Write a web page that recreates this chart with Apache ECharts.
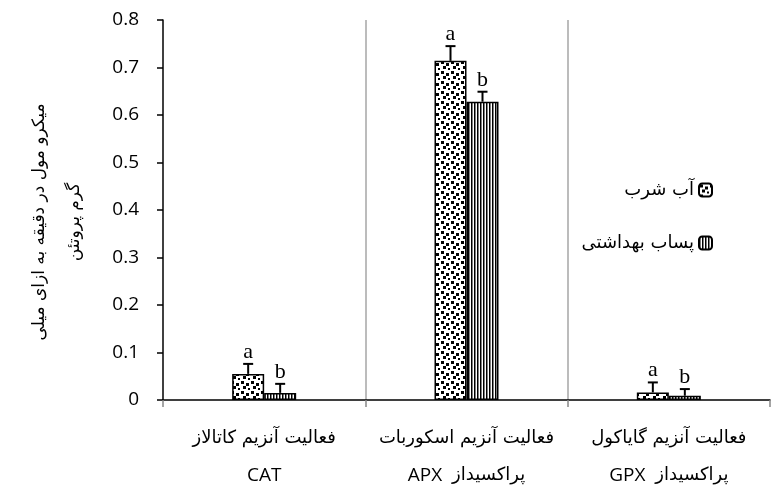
<!DOCTYPE html>
<html>
<head>
<meta charset="utf-8">
<script src="https://cdn.jsdelivr.net/npm/echarts@6/dist/echarts.min.js"></script>
<style>html,body{margin:0;padding:0;background:#fff;}#c{width:777px;height:495px;}</style>
</head>
<body>
<div id="c"></div>
<script>
var categoryNames = ['فعالیت آنزیم کاتالاز', 'فعالیت آنزیم اسکوربات', 'فعالیت آنزیم گایاکول'];
var categoryCodes = ['CAT', 'APX', 'GPX'];
var categorySuffix = ['', 'پراکسیداز', 'پراکسیداز'];
var seriesNames = ['آب شرب', 'پساب بهداشتی'];
var drinkingWater = [0.055, 0.714, 0.016];
var drinkingErr = [0.021, 0.031, 0.021];
var wastewater = [0.015, 0.628, 0.009];
var wastewaterErr = [0.019, 0.021, 0.014];
var drinkingLetters = ['a', 'a', 'a'];
var wastewaterLetters = ['b', 'b', 'b'];
var yTicks = [0, 0.1, 0.2, 0.3, 0.4, 0.5, 0.6, 0.7, 0.8];
var yTitle = 'میکرو مول در دقیقه به ازای میلی\nگرم پروتئن';

function dotPattern() {
  var c = document.createElement('canvas');
  c.width = 10; c.height = 10;
  var g = c.getContext('2d');
  g.fillStyle = '#fff'; g.fillRect(0, 0, 10, 10);
  g.fillStyle = '#000';
  g.fillRect(1, 1, 3, 3);
  g.fillRect(6, 3, 3, 3);
  g.fillRect(3, 6, 3, 3);
  g.fillRect(8, 8, 2, 2);
  return c;
}
function stripePattern() {
  var c = document.createElement('canvas');
  c.width = 3; c.height = 3;
  var g = c.getContext('2d');
  g.fillStyle = '#fff'; g.fillRect(0, 0, 3, 3);
  g.fillStyle = '#000'; g.fillRect(0, 0, 1.5, 3);
  return c;
}
var pat1 = {image: dotPattern(), repeat: 'repeat'};
var pat2 = {image: stripePattern(), repeat: 'repeat'};

function errData(vals, errs, letters) {
  return vals.map(function (v, i) { return [i, v, v + errs[i], letters[i]]; });
}
function errRender(offset) {
  return function (params, api) {
    var i = api.value(0);
    var p0 = api.coord([i, api.value(1)]);
    var p1 = api.coord([i, api.value(2)]);
    var x = p0[0] + offset;
    return {
      type: 'group',
      children: [
        {type: 'line', shape: {x1: x, y1: p0[1], x2: x, y2: p1[1]}, style: {stroke: '#000', lineWidth: 2}},
        {type: 'line', shape: {x1: x - 5, y1: p1[1], x2: x + 5, y2: p1[1]}, style: {stroke: '#000', lineWidth: 2}},
        {type: 'text', x: x, y: p1[1] - 1, style: {text: api.value(3), fill: '#000', font: '22px "Liberation Serif"', align: 'center', verticalAlign: 'bottom'}}
      ]
    };
  };
}

var chart = echarts.init(document.getElementById('c'), null, {renderer: 'canvas'});
chart.setOption({
  animation: false,
  backgroundColor: '#fff',
  grid: {left: 163, right: 7, top: 20, bottom: 95, containLabel: false, outerBoundsMode: 'none'},
  graphic: [{
    type: 'text', x: 57, y: 222, rotation: Math.PI / 2,
    style: {text: yTitle, fill: '#000', font: '17px "DejaVu Sans"', align: 'center', verticalAlign: 'middle', lineHeight: 35}
  }],
  legend: {
    data: seriesNames,
    orient: 'vertical',
    right: 59, top: 176,
    align: 'right',
    itemWidth: 13, itemHeight: 13, itemGap: 35,
    textStyle: {fontFamily: 'DejaVu Sans', fontSize: 18, color: '#000'}
  },
  xAxis: {
    type: 'category',
    data: categoryCodes,
    axisLine: {lineStyle: {color: '#000', width: 1.5}},
    axisTick: {show: true, length: 7, lineStyle: {color: '#888', width: 1.5}},
    splitLine: {show: true, showMinLine: false, showMaxLine: false, lineStyle: {color: '#a6a6a6', width: 1.5}},
    axisLabel: {
      margin: 20,
      formatter: function (v, i) {
        var line2 = categorySuffix[i] ? '{c|' + v + '  }{p|' + categorySuffix[i] + '}' : '{c|' + v + '}';
        return '{p|' + categoryNames[i] + '}\n' + line2;
      },
      rich: {
        p: {fontFamily: 'DejaVu Sans', fontSize: 18, color: '#000', lineHeight: 37},
        c: {fontFamily: 'Open Sans', fontSize: 19, color: '#000', lineHeight: 37}
      }
    }
  },
  yAxis: {
    type: 'value',
    min: 0, max: 0.8, interval: 0.1,
    axisLine: {show: true, lineStyle: {color: '#000', width: 1.5}},
    axisTick: {show: true, length: 6, lineStyle: {color: '#000', width: 1.5}},
    splitLine: {show: false},
    axisLabel: {
      fontFamily: 'Open Sans', fontSize: 19, color: '#000', margin: 24,
      formatter: function (v) { var t = yTicks.filter(function (y) { return Math.abs(y - v) < 1e-9; }); return t.length ? String(+t[0].toFixed(1)) : ''; }
    }
  },
  series: [
    {name: seriesNames[0], type: 'bar', data: drinkingWater, barWidth: 32, barGap: '0%',
     itemStyle: {color: pat1, borderColor: '#000', borderWidth: 1.5}},
    {name: seriesNames[1], type: 'bar', data: wastewater, barWidth: 32, barGap: '0%',
     itemStyle: {color: pat2, borderColor: '#000', borderWidth: 1.5}},
    {type: 'custom', data: errData(drinkingWater, drinkingErr, drinkingLetters), renderItem: errRender(-16), z: 5, silent: true},
    {type: 'custom', data: errData(wastewater, wastewaterErr, wastewaterLetters), renderItem: errRender(16), z: 5, silent: true}
  ]
});
</script>
</body>
</html>
